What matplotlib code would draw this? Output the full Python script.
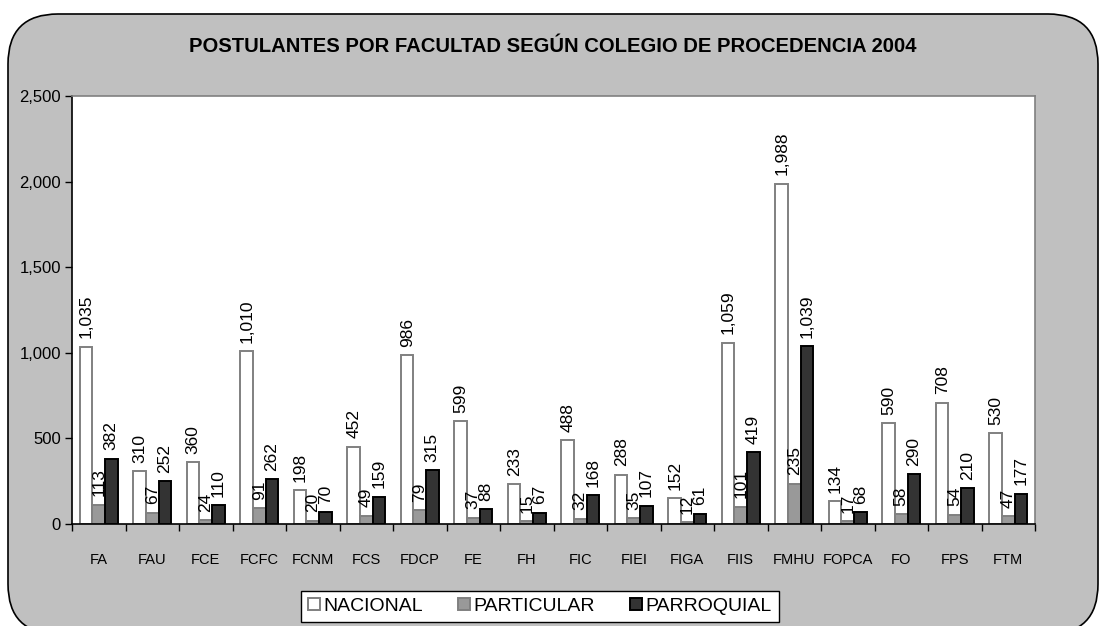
import numpy as np
import matplotlib.pyplot as plt
from matplotlib.patches import FancyBboxPatch

plt.rcParams['font.family'] = ['Liberation Sans', 'DejaVu Sans']

# Datos
facultades = ["FA", "FAU", "FCE", "FCFC", "FCNM", "FCS", "FDCP", "FE", "FH", "FIC",
              "FIEI", "FIGA", "FIIS", "FMHU", "FOPCA", "FO", "FPS", "FTM"]
nacional = [1035, 310, 360, 1010, 198, 452, 986, 599, 233, 488, 288, 152, 1059, 1988, 134, 590, 708, 530]
particular = [113, 67, 24, 91, 20, 49, 79, 37, 15, 32, 35, 12, 101, 235, 17, 58, 54, 47]
parroquial = [382, 252, 110, 262, 70, 159, 315, 88, 67, 168, 107, 61, 419, 1039, 68, 290, 210, 177]

W, H = 1101, 626
fig = plt.figure(figsize=(W / 100, H / 100), dpi=100)
fig.patch.set_facecolor("white")

# Marco redondeado gris
caja = FancyBboxPatch((8 / 100, -0.08), (1098 - 8) / 100, (H - 14) / 100 + 0.08,
                      boxstyle="round,pad=0,rounding_size=0.5",
                      transform=fig.dpi_scale_trans, facecolor="#c0c0c0",
                      edgecolor="black", linewidth=1.2, zorder=-10)
fig.patches.append(caja)

ax = fig.add_axes([72 / W, (H - 524) / H, (1035 - 72) / W, (524 - 96) / H])
ax.set_facecolor("white")

x = np.arange(len(facultades))
w = 0.235
series = [
    (nacional, "NACIONAL", "white", "#808080"),
    (particular, "PARTICULAR", "#999999", "#808080"),
    (parroquial, "PARROQUIAL", "#333333", "black"),
]
for i, (vals, nombre, fc, ec) in enumerate(series):
    pos = x + (i - 1) * w
    bars = ax.bar(pos, vals, width=w, color=fc, edgecolor=ec, linewidth=1.4, label=nombre, zorder=2)
    for b, v in zip(bars, vals):
        ax.annotate(f"{v:,}", (b.get_x() + b.get_width() / 2, v), xytext=(0, 6),
                    textcoords="offset points", rotation=90, ha="center", va="bottom",
                    fontsize=12.5)

ax.set_xlim(-0.5, len(facultades) - 0.5)
ax.set_ylim(0, 2500)
ax.set_yticks(range(0, 2501, 500))
ax.set_yticklabels([f"{v:,}" for v in range(0, 2501, 500)])
ax.tick_params(axis="y", labelsize=12, length=5, width=1, pad=3)
ax.set_xticks(x)
ax.set_xticklabels(facultades)
ax.tick_params(axis="x", which="major", length=0, labelsize=10.5, pad=21)
ax.set_xticks(np.arange(-0.5, len(facultades), 1), minor=True)
ax.tick_params(axis="x", which="minor", length=5, width=1)

for s in ["left", "bottom"]:
    ax.spines[s].set_color("black")
    ax.spines[s].set_linewidth(1.2)
for s in ["top", "right"]:
    ax.spines[s].set_color("#808080")
    ax.spines[s].set_linewidth(1.2)

fig.text(553 / W, 1 - 46 / H, "POSTULANTES POR FACULTAD SEGÚN COLEGIO DE PROCEDENCIA 2004",
         ha="center", va="center", fontsize=14.6, fontweight="bold")

leg = fig.legend(loc="upper center", bbox_to_anchor=(540 / W, 1 - 591 / H), ncol=3,
                 fontsize=14, frameon=True, fancybox=False, handlelength=0.6, handleheight=0.6,
                 handletextpad=0.2, columnspacing=1.8, borderpad=0.35, borderaxespad=0)
leg.get_frame().set_edgecolor("black")
leg.get_frame().set_linewidth(1)
leg.get_frame().set_facecolor("white")
leg.get_frame().set_alpha(1)

fig.savefig("out.png", dpi=100)
